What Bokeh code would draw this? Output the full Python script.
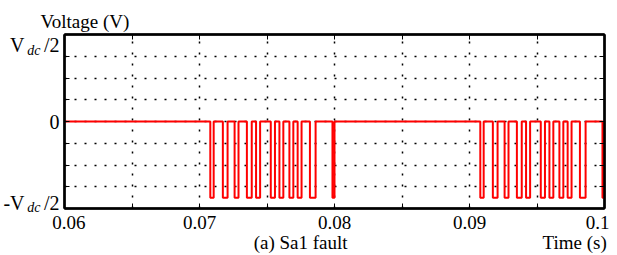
from bokeh.plotting import figure
from bokeh.models import Range1d, FixedTicker, LinearAxis, Grid
from bokeh.embed import file_html
from bokeh.resources import INLINE

# ---------------- data ----------------
VDC_HALF = 350
# intervals (s) in which the leg voltage is -Vdc/2
low_start = [0.07080, 0.07173, 0.07260, 0.07351, 0.07419, 0.07528, 0.07592, 0.07666, 0.07727, 0.07818, 0.07985,
             0.09080, 0.09173, 0.09260, 0.09351, 0.09419, 0.09528, 0.09592, 0.09666, 0.09727, 0.09818, 0.09985]
low_end = [0.07105, 0.07208, 0.07289, 0.07387, 0.07449, 0.07559, 0.07621, 0.07695, 0.07756, 0.07860, 0.08000,
           0.09105, 0.09208, 0.09289, 0.09387, 0.09449, 0.09559, 0.09621, 0.09695, 0.09756, 0.09860, 0.10000]
t_start, t_end = 0.06, 0.10
x_tick_labels = ["0.06", "0.07", "0.08", "0.09", "0.1"]
x_tick_values = [0.06, 0.07, 0.08, 0.09, 0.10]
x_grid_values = [0.065, 0.07, 0.075, 0.08, 0.085, 0.09, 0.095]
y_grid_values = [-300, -200, -100, 0, 100, 200, 300]
y_title = "Voltage (V)"
x_title = "Time (s)"
caption = "(a) Sa1 fault"

# step trace
xs, ys = [t_start], [0]
for a, b in zip(low_start, low_end):
    xs += [a, a, b, b]
    ys += [0, -VDC_HALF, -VDC_HALF, 0]
xs.append(t_end)
ys.append(0)

FONT = "Liberation Serif"
W, H = 612, 255
FL, FT, FR, FB = 62, 34, 604, 212   # frame edges in pixels

p = figure(width=W, height=H, output_backend="svg", toolbar_location=None,
           x_range=Range1d(t_start, t_end), y_range=Range1d(-400, 400),
           min_border_left=FL, min_border_right=W - FR, min_border_top=FT, min_border_bottom=H - FB,
           x_axis_location=None, y_axis_location=None)
p.outline_line_color = "black"
p.outline_line_width = 2
p.xgrid.visible = False
p.ygrid.visible = False


def px2t(px):
    return round(t_start + (px - FL) / (FR - FL) * (t_end - t_start), 7)


def py2v(py):
    return round((123 - py) / 0.2225, 3)


def axis(side, majors, labels, minors=(), size="19px", style="normal", standoff=4, line=True):
    ax = LinearAxis(ticker=FixedTicker(ticks=list(majors), minor_ticks=list(minors)))
    ax.major_label_overrides = {m: l for m, l in zip(majors, labels)}
    ax.axis_line_color = "black" if line else None
    ax.axis_line_width = 2.5
    ax.major_tick_in = 0
    ax.major_tick_out = 0
    ax.minor_tick_in = 5
    ax.minor_tick_out = 0
    ax.major_tick_line_color = "black"
    ax.minor_tick_line_color = "black"
    ax.major_label_text_font = FONT
    ax.major_label_text_font_size = size
    ax.major_label_text_font_style = style
    ax.major_label_text_color = "black"
    ax.major_label_standoff = standoff
    p.add_layout(ax, side)
    return ax


# bottom: tick labels (ends nudged inward as in the reference) + tick marks
xpos = [px2t(66.5), 0.07, 0.08, 0.09, px2t(597)]
axis("below", xpos, x_tick_labels, minors=x_grid_values, standoff=7)
# bottom 2: caption and axis title
axis("below", [px2t(299), px2t(574)], [caption, x_title], line=False, standoff=0)
# top: y title + tick marks
axis("above", [px2t(82.5)], [y_title], minors=x_grid_values, size="19px", standoff=3)
# right: tick marks only
axis("right", [], [], minors=y_grid_values)
# left: composed labels  "V" + italic "dc" + "/2"
axis("left", [0, VDC_HALF, py2v(206)], ["0", "/2", "/2"], minors=y_grid_values, size="20px", standoff=5)
axis("left", [py2v(50), py2v(211)], ["dc", "dc"], line=False, size="14px", style="italic", standoff=0)
axis("left", [VDC_HALF, py2v(206)], ["V", "-V"], line=False, size="20px", standoff=0)

gx = Grid(dimension=0, ticker=FixedTicker(ticks=x_grid_values),
          grid_line_color="black", grid_line_dash="2 9", grid_line_width=1.5)
gy = Grid(dimension=1, ticker=FixedTicker(ticks=y_grid_values),
          grid_line_color="black", grid_line_dash="2 8", grid_line_width=1.5)
p.add_layout(gx)
p.add_layout(gy)

p.line(xs, ys, line_color="#ff0000", line_width=2)

open("out.html", "w").write(file_html(p, INLINE))
